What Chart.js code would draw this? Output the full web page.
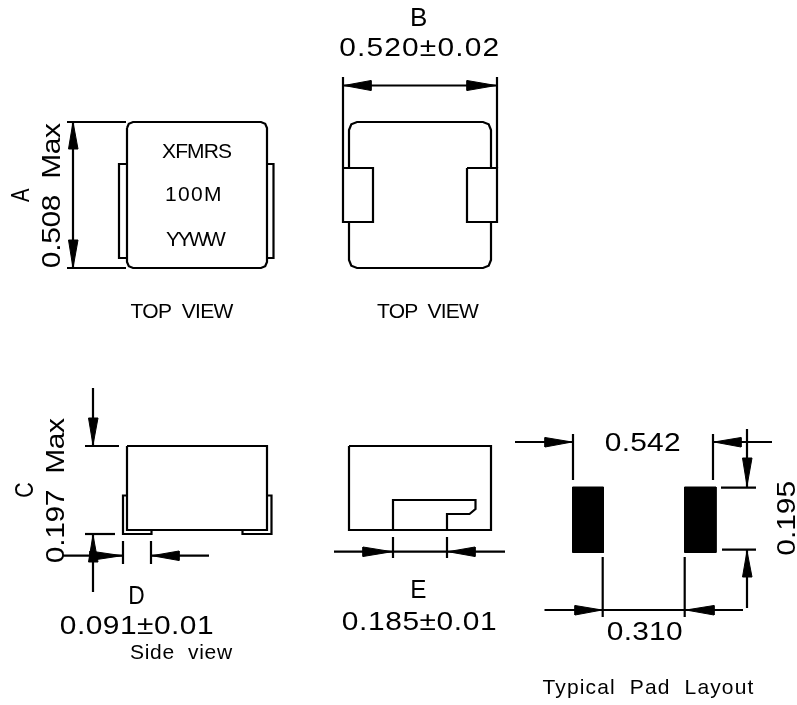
<!DOCTYPE html>
<html lang="en">
<head>
    <meta charset="UTF-8">
    <title>XFMRS package drawing</title>
    <script src="https://cdn.jsdelivr.net/npm/chart.js"></script>
    <style>
        body {
            margin: 0;
            background: #fff;
        }
        #drawing {
            display: block;
        }
    </style>
</head>
<body>
    <canvas id="drawing" width="797" height="705"></canvas>

    <script>
        // Drawing data, in the units of the sheet
        const topViewMarked = [
            [[127,128],[128.8,123.8],[133,122],[261,122],[265.2,123.8],[267,128],[267,262],[265.2,266.2],[261,268],[133,268],[128.8,266.2],[127,262],[127,128]],
            [[127,164],[119,164],[119,258],[127,258]],
            [[267,164],[273.5,164],[273.5,258],[267,258]]
        ];
        const topViewPads = [
            [[349,168],[349,130],[351.3,124.3],[357,122],[483,122],[488.7,124.3],[491,130],[491,168]],
            [[349,222],[349,260],[351.3,265.7],[357,268],[483,268],[488.7,265.7],[491,260],[491,222]],
            [[343,168],[373,168],[373,222],[343,222],[343,168]],
            [[467,168],[497,168],[497,222],[467,222],[467,168]]
        ];
        const sideViewBody = [
            [[127,446],[267,446],[267,530],[127,530],[127,446]],
            [[127,495.5],[123,495.5],[123,534],[151.5,534],[151.5,530]],
            [[267,495.5],[271.5,495.5],[271.5,534],[242.5,534],[242.5,530]],
            [[349,446],[491,446],[491,530],[349,530],[349,446]],
            [[393,530],[393,500],[475.5,500],[475.5,509],[469.5,514],[447,514],[447,530]]
        ];
        const dimensionLines = [
            [[67,122],[126,122]], [[67,268],[126,268]], [[73,122],[73,268]],
            [[343,77],[343,168]], [[497,77],[497,168]], [[343,85.5],[497,85.5]],
            [[85,446],[119,446]], [[85,534],[115,534]], [[93,388],[93,446]], [[93,534],[93,592]],
            [[63,555.7],[123,555.7]], [[123,541],[123,564]], [[151,541],[151,564]], [[151,555.7],[209,555.7]],
            [[334,551.7],[505,551.7]], [[393,537],[393,558]], [[447,537],[447,558]],
            [[573,434],[573,480]], [[713,434],[713,480]], [[515,442],[573,442]], [[713,442],[772,442]],
            [[747,429],[747,487]], [[721,487.7],[756,487.7]], [[722,549.7],[756,549.7]], [[747,550],[747,608]],
            [[544.5,610],[743,610]], [[602.7,557],[602.7,617]], [[684.7,557],[684.7,617]]
        ];
        const arrowHeads = [
            [[73,122],[68.5,149],[78,149]], [[73,268],[68.5,240],[78,240]],
            [[344,85.5],[371,80.5],[371,90.5]], [[496,85.5],[467,80.5],[467,90.5]],
            [[93,445],[88.5,418],[98,418]], [[93,535],[88.5,562],[98,562]],
            [[122,555.7],[90,551],[90,560.5]], [[152,555.7],[179,551],[179,560.5]],
            [[392,551.7],[363,547],[363,556.5]], [[448,551.7],[475,547],[475,556.5]],
            [[572,442],[545,437.5],[545,447]], [[714,442],[741,437.5],[741,447]],
            [[747,486],[742.5,458],[752,458]], [[747,551],[742.5,577],[752,577]],
            [[602,610],[575,605.5],[575,615]], [[686,610],[714,605.5],[714,615]]
        ];
        const solderPads = [
            [[572.5,487],[603.5,487],[603.5,552.5],[572.5,552.5],[572.5,487]],
            [[684.5,487],[716,487],[716,552.5],[684.5,552.5],[684.5,487]]
        ];

        const labelTexts = [
            'B', '0.520\u00b10.02', 'A', '0.508  Max', 'XFMRS', '100M', 'YYWW', 'TOP  VIEW', 'TOP  VIEW',
            'C', '0.197  Max', 'D', '0.091\u00b10.01', 'Side  view', 'E', '0.185\u00b10.01',
            '0.542', '0.195', '0.310', 'Typical  Pad  Layout'
        ];

        // centre x, centre y, overall width, font size, rotated or not - same order as labelTexts
        const labelPlacement = [
            [419,17,14,26,0], [419.5,47,158,26,0], [20,195,14,26,1], [51,195,144,26,1],
            [197,151,70,21,0], [193,193.5,54,21,0], [196,239,60,21,0], [182,311,103,21,0], [428,311,102,21,0],
            [24,490,14,26,1], [55,490,144,26,1], [137,595,14,26,0], [137,625,152,26,0], [181.5,651,103,21,0],
            [419,589,14,26,0], [419.5,621,153,26,0],
            [643,442,74,26,0], [786,518,73,26,1], [645,631,74,26,0], [648,688,211,21,0]
        ];

        const toPoints = path => path.map(p => ({ x: p[0], y: p[1] }));

        const strokeSet = path => ({
            data: toPoints(path),
            showLine: true,
            borderColor: '#000',
            borderWidth: 2.2,
            pointRadius: 0,
            fill: false,
            tension: 0
        });

        const solidSet = path => ({
            data: toPoints(path.concat([path[0]])),
            showLine: true,
            borderColor: '#000',
            backgroundColor: '#000',
            borderWidth: 1,
            pointRadius: 0,
            fill: 'shape',
            tension: 0
        });

        // Real text, placed through the chart's scales.
        // The big glyphs are stretched a bit, the drawing font is wider than Liberation.
        const labelPlugin = {
            id: 'labelPlugin',
            afterDatasetsDraw(chart) {
                const ctx = chart.ctx;
                labelTexts.forEach((text, i) => {
                    const [cx, cy, width, size, rotated] = labelPlacement[i];
                    ctx.save();
                    ctx.font = size + 'px "Liberation Sans"';
                    ctx.fillStyle = '#000';
                    ctx.textBaseline = 'alphabetic';
                    ctx.textAlign = 'left';
                    ctx.letterSpacing = '0px';
                    const plain = ctx.measureText(text);
                    const inkWidth = plain.actualBoundingBoxRight + plain.actualBoundingBoxLeft;
                    let stretch = size > 24 ? 1.15 : 1;
                    if (text.length === 1) stretch = width / inkWidth;
                    const spacing = text.length > 1 ? (width / stretch - inkWidth) / (text.length - 1) : 0;
                    ctx.letterSpacing = spacing + 'px';
                    ctx.translate(chart.scales.x.getPixelForValue(cx), chart.scales.y.getPixelForValue(cy));
                    if (rotated) ctx.rotate(-Math.PI / 2);
                    ctx.scale(stretch, 1);
                    const inkHeight = plain.actualBoundingBoxAscent - plain.actualBoundingBoxDescent;
                    ctx.fillText(text, -width / stretch / 2 + plain.actualBoundingBoxLeft, inkHeight / 2);
                    ctx.restore();
                });
            }
        };

        new Chart(document.getElementById('drawing').getContext('2d'), {
            type: 'scatter',
            data: {
                datasets: [
                    ...topViewMarked.map(strokeSet),
                    ...sideViewBody.map(strokeSet),
                    ...dimensionLines.map(strokeSet),
                    ...arrowHeads.map(solidSet),
                    ...solderPads.map(solidSet),
                    // pads of the second top view sit over the outline
                    ...topViewPads.map(strokeSet)
                ]
            },
            options: {
                responsive: false,
                animation: false,
                devicePixelRatio: 1,
                layout: { padding: 0 },
                plugins: {
                    legend: { display: false },
                    tooltip: { enabled: false }
                },
                scales: {
                    x: { type: 'linear', min: 0, max: 797, display: false },
                    y: { type: 'linear', min: 0, max: 705, reverse: true, display: false }
                }
            },
            plugins: [labelPlugin]
        });
    </script>
</body>
</html>
